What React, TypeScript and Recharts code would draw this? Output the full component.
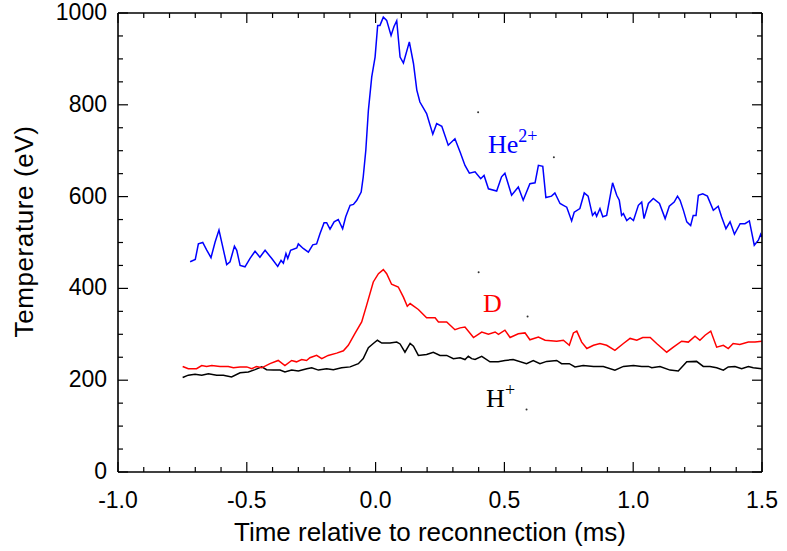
import React from 'react';
import { LineChart, Line, XAxis, YAxis, ReferenceDot, Label } from 'recharts';

// [time (ms), temperature (eV)]
const heTemperature: [number, number][] = [
  [-0.72, 458], [-0.7, 463], [-0.688, 497], [-0.671, 500], [-0.656, 484], [-0.639, 467], [-0.623, 501],
  [-0.608, 527], [-0.578, 452], [-0.565, 458], [-0.548, 492], [-0.539, 483], [-0.526, 450], [-0.507, 447],
  [-0.488, 465], [-0.468, 481], [-0.449, 468], [-0.429, 483], [-0.403, 465], [-0.38, 448], [-0.367, 461],
  [-0.358, 455], [-0.348, 476], [-0.341, 465], [-0.33, 483], [-0.306, 488], [-0.3, 497], [-0.281, 487],
  [-0.261, 479], [-0.244, 495], [-0.229, 497], [-0.216, 519], [-0.2, 543], [-0.19, 543], [-0.177, 529],
  [-0.161, 545], [-0.145, 550], [-0.128, 530], [-0.116, 556], [-0.099, 581], [-0.086, 583], [-0.073, 592],
  [-0.056, 610], [-0.048, 643], [-0.038, 701], [-0.028, 788], [-0.015, 861], [-0.002, 904], [0.008, 973],
  [0.017, 973], [0.03, 991], [0.043, 984], [0.06, 951], [0.071, 970], [0.082, 983], [0.095, 904],
  [0.108, 891], [0.131, 937], [0.147, 890], [0.16, 832], [0.172, 806], [0.198, 781], [0.222, 736],
  [0.237, 759], [0.257, 753], [0.282, 712], [0.308, 726], [0.328, 697], [0.347, 668], [0.364, 651],
  [0.386, 654], [0.408, 639], [0.421, 646], [0.438, 617], [0.47, 612], [0.489, 643], [0.502, 651],
  [0.528, 603], [0.554, 621], [0.573, 592], [0.599, 628], [0.619, 630], [0.632, 668], [0.649, 666],
  [0.661, 598], [0.683, 601], [0.696, 608], [0.716, 585], [0.729, 581], [0.742, 577], [0.761, 547],
  [0.771, 566], [0.793, 574], [0.81, 608], [0.825, 601], [0.842, 559], [0.852, 566], [0.858, 557],
  [0.871, 574], [0.882, 556], [0.897, 559], [0.92, 630], [0.936, 603], [0.946, 592], [0.955, 559],
  [0.962, 563], [0.975, 548], [0.988, 554], [1.001, 548], [1.02, 581], [1.033, 588], [1.042, 552],
  [1.059, 585], [1.078, 596], [1.102, 585], [1.124, 552], [1.14, 579], [1.159, 588], [1.172, 601],
  [1.182, 592], [1.195, 570], [1.208, 545], [1.223, 537], [1.233, 559], [1.244, 559], [1.253, 603],
  [1.27, 606], [1.288, 601], [1.311, 570], [1.33, 579], [1.343, 556], [1.36, 530], [1.376, 545],
  [1.393, 518], [1.415, 541], [1.434, 541], [1.451, 547], [1.47, 494], [1.486, 505], [1.495, 518],
  [1.5, 512],
];

const dTemperature: [number, number][] = [
  [-0.749, 230], [-0.727, 225], [-0.695, 225], [-0.675, 232], [-0.656, 230], [-0.636, 232], [-0.604, 230],
  [-0.572, 230], [-0.552, 227], [-0.526, 229], [-0.5, 229], [-0.481, 225], [-0.462, 230], [-0.442, 227],
  [-0.41, 236], [-0.378, 243], [-0.352, 232], [-0.326, 243], [-0.307, 240], [-0.287, 245], [-0.268, 243],
  [-0.255, 249], [-0.229, 254], [-0.209, 247], [-0.184, 254], [-0.151, 259], [-0.125, 264], [-0.106, 276],
  [-0.08, 302], [-0.054, 327], [-0.035, 363], [-0.009, 414], [0.011, 432], [0.03, 441], [0.043, 432],
  [0.062, 409], [0.088, 403], [0.108, 381], [0.123, 361], [0.134, 367], [0.166, 354], [0.198, 336],
  [0.231, 336], [0.244, 327], [0.276, 327], [0.308, 310], [0.328, 314], [0.347, 316], [0.38, 293],
  [0.412, 305], [0.438, 300], [0.464, 305], [0.477, 300], [0.502, 309], [0.522, 293], [0.554, 301],
  [0.58, 303], [0.599, 288], [0.632, 294], [0.658, 287], [0.703, 285], [0.729, 287], [0.752, 276],
  [0.768, 303], [0.781, 307], [0.8, 283], [0.82, 269], [0.846, 276], [0.871, 280], [0.897, 276],
  [0.929, 265], [0.962, 280], [0.988, 291], [1.014, 287], [1.037, 293], [1.066, 293], [1.091, 280],
  [1.13, 261], [1.156, 272], [1.188, 285], [1.214, 283], [1.24, 296], [1.259, 287], [1.279, 298],
  [1.301, 307], [1.324, 272], [1.35, 276], [1.369, 269], [1.388, 280], [1.414, 278], [1.447, 283],
  [1.473, 283], [1.499, 285],
];

const hTemperature: [number, number][] = [
  [-0.749, 206], [-0.727, 211], [-0.701, 213], [-0.675, 211], [-0.649, 214], [-0.617, 211], [-0.591, 211],
  [-0.559, 207], [-0.526, 216], [-0.494, 218], [-0.468, 223], [-0.442, 229], [-0.423, 223], [-0.397, 222],
  [-0.371, 222], [-0.352, 218], [-0.326, 222], [-0.3, 220], [-0.267, 225], [-0.248, 227], [-0.222, 222],
  [-0.19, 225], [-0.164, 223], [-0.132, 227], [-0.099, 229], [-0.067, 236], [-0.048, 247], [-0.028, 271],
  [-0.009, 280], [0.007, 287], [0.024, 281], [0.056, 281], [0.082, 283], [0.095, 279], [0.114, 261],
  [0.134, 280], [0.147, 274], [0.166, 254], [0.198, 256], [0.224, 261], [0.25, 254], [0.276, 254],
  [0.302, 247], [0.328, 249], [0.347, 245], [0.36, 252], [0.373, 247], [0.386, 245], [0.412, 252],
  [0.444, 240], [0.476, 240], [0.502, 243], [0.534, 245], [0.586, 236], [0.612, 243], [0.638, 236],
  [0.664, 241], [0.703, 243], [0.722, 236], [0.752, 236], [0.774, 229], [0.806, 232], [0.846, 230],
  [0.884, 230], [0.929, 222], [0.962, 230], [1.001, 232], [1.033, 230], [1.059, 230], [1.072, 227],
  [1.104, 230], [1.143, 222], [1.175, 220], [1.208, 240], [1.246, 241], [1.272, 230], [1.298, 230],
  [1.324, 227], [1.35, 222], [1.369, 229], [1.395, 230], [1.421, 225], [1.447, 230], [1.466, 227],
  [1.499, 225],
];

const xTicks = [
  -1.0, -0.9, -0.8, -0.7, -0.6, -0.5, -0.4, -0.3, -0.2, -0.1, 0.0, 0.1, 0.2,
  0.3, 0.4, 0.5, 0.6, 0.7, 0.8, 0.9, 1.0, 1.1, 1.2, 1.3, 1.4, 1.5,
];
const xMajorTicks = [-1.0, -0.5, 0.0, 0.5, 1.0, 1.5];
const xTickLabels = ['-1.0', '-0.5', '0.0', '0.5', '1.0', '1.5'];

const yTicks = [0, 50, 100, 150, 200, 250, 300, 350, 400, 450, 500, 550, 600, 650, 700, 750, 800, 850, 900, 950, 1000];
const yMajorTicks = [0, 200, 400, 600, 800, 1000];
const yTickLabels = ['0', '200', '400', '600', '800', '1000'];

// small stray marks in the original figure
const strayDots: [number, number][] = [[0.398, 784], [0.692, 686], [0.4, 435], [0.59, 339], [0.586, 136]];

const toPoints = (rows: [number, number][]) => rows.map(([t, v]) => ({ t, v }));

const SANS = '"Liberation Sans", Arial, Helvetica, sans-serif';
const SERIF = '"Liberation Serif", "Times New Roman", serif';
const MAJOR = 10;
const MINOR = 5;
const X_MARGIN = 8;
const Y_MARGIN = 11;
const TICK_FONT = 23;
const TITLE_FONT = 26;

function BottomTick({ x, y, payload }: any) {
  const i = xMajorTicks.indexOf(payload.value);
  const axisY = y - X_MARGIN;
  return (
    <g>
      <line x1={x} y1={axisY} x2={x} y2={axisY - (i >= 0 ? MAJOR : MINOR)} stroke="#000" strokeWidth={1.2} />
      {i >= 0 && (
        <text x={x} y={axisY + 36} textAnchor="middle" fontFamily={SANS} fontSize={TICK_FONT} fill="#000">
          {xTickLabels[i]}
        </text>
      )}
    </g>
  );
}

function TopTick({ x, y, payload }: any) {
  const major = xMajorTicks.indexOf(payload.value) >= 0;
  return <line x1={x} y1={y} x2={x} y2={y + (major ? MAJOR : MINOR)} stroke="#000" strokeWidth={1.2} />;
}

function LeftTick({ x, y, payload }: any) {
  const i = yMajorTicks.indexOf(payload.value);
  const axisX = x + Y_MARGIN;
  return (
    <g>
      <line x1={axisX} y1={y} x2={axisX + (i >= 0 ? MAJOR : MINOR)} y2={y} stroke="#000" strokeWidth={1.2} />
      {i >= 0 && (
        <text x={x} y={y} dy="0.3em" textAnchor="end" fontFamily={SANS} fontSize={TICK_FONT} fill="#000">
          {yTickLabels[i]}
        </text>
      )}
    </g>
  );
}

function RightTick({ x, y, payload }: any) {
  const major = yMajorTicks.indexOf(payload.value) >= 0;
  return <line x1={x} y1={y} x2={x - (major ? MAJOR : MINOR)} y2={y} stroke="#000" strokeWidth={1.2} />;
}

function speciesLabel(base: string, sup: string, color: string) {
  return (props: any) => {
    const vb = props.viewBox || {};
    const cx = vb.x + (vb.width || 0) / 2;
    const cy = vb.y + (vb.height || 0) / 2;
    return (
      <text x={cx} y={cy} fill={color} fontFamily={SERIF} fontSize={26}>
        {base}
        {sup && (
          <tspan dy={-11} fontSize={18}>
            {sup}
          </tspan>
        )}
      </text>
    );
  };
}

const axisStroke = { stroke: '#000', strokeWidth: 1.6 };

export default function App() {
  return (
    <div style={{ position: 'absolute', left: 0, top: 0, background: '#fff' }}>
      <LineChart width={787} height={551} margin={{ top: 0, right: 0, bottom: 0, left: 0 }}>
        <XAxis
          xAxisId={0}
          type="number"
          dataKey="t"
          domain={[-1, 1.5]}
          ticks={xTicks}
          interval={0}
          allowDataOverflow
          height={79}
          axisLine={axisStroke}
          tickLine={false}
          tickSize={0}
          tickMargin={X_MARGIN}
          tick={<BottomTick />}
        >
          <Label
            content={(p: any) => {
              const vb = p.viewBox;
              return (
                <text x={vb.x + vb.width / 2 - 10} y={vb.y + vb.height - 10} textAnchor="middle" fontFamily={SANS} fontSize={TITLE_FONT} fill="#000">
                  Time relative to reconnection (ms)
                </text>
              );
            }}
          />
        </XAxis>
        <XAxis
          xAxisId="top"
          orientation="top"
          type="number"
          dataKey="t"
          domain={[-1, 1.5]}
          ticks={xTicks}
          interval={0}
          allowDataOverflow
          height={13}
          axisLine={axisStroke}
          tickLine={false}
          tickSize={0}
          tickMargin={0}
          tick={<TopTick />}
        />
        <YAxis
          yAxisId={0}
          type="number"
          domain={[0, 1000]}
          ticks={yTicks}
          interval={0}
          allowDataOverflow
          width={118}
          axisLine={axisStroke}
          tickLine={false}
          tickSize={0}
          tickMargin={Y_MARGIN}
          tick={<LeftTick />}
        >
          <Label
            content={(p: any) => {
              const vb = p.viewBox;
              const cx = vb.x + 24;
              const cy = vb.y + vb.height / 2 - 11;
              return (
                <text
                  x={cx}
                  y={cy}
                  transform={`rotate(-90 ${cx} ${cy})`}
                  textAnchor="middle"
                  dominantBaseline="central"
                  fontFamily={SANS}
                  fontSize={TITLE_FONT}
                  letterSpacing={0.6}
                  fill="#000"
                >
                  Temperature (eV)
                </text>
              );
            }}
          />
        </YAxis>
        <YAxis
          yAxisId="right"
          orientation="right"
          type="number"
          domain={[0, 1000]}
          ticks={yTicks}
          interval={0}
          allowDataOverflow
          width={25}
          axisLine={axisStroke}
          tickLine={false}
          tickSize={0}
          tickMargin={0}
          tick={<RightTick />}
        />
        <Line data={toPoints(hTemperature)} dataKey="v" type="linear" stroke="#000000" strokeWidth={1.5} dot={false} isAnimationActive={false} />
        <Line data={toPoints(dTemperature)} dataKey="v" type="linear" stroke="#ff0000" strokeWidth={1.5} dot={false} isAnimationActive={false} />
        <Line data={toPoints(heTemperature)} dataKey="v" type="linear" stroke="#0000ff" strokeWidth={1.5} dot={false} isAnimationActive={false} />
        <ReferenceDot x={0.436} y={696} r={0} fill="none" stroke="none" label={{ content: speciesLabel('He', '2+', '#0000ff') }} />
        <ReferenceDot x={0.417} y={348} r={0} fill="none" stroke="none" label={{ content: speciesLabel('D', '', '#ff0000') }} />
        <ReferenceDot x={0.429} y={142} r={0} fill="none" stroke="none" label={{ content: speciesLabel('H', '+', '#000000') }} />
        {strayDots.map(([t, v], i) => (
          <ReferenceDot key={i} x={t} y={v} r={1} fill="#333" stroke="none" />
        ))}
      </LineChart>
    </div>
  );
}
